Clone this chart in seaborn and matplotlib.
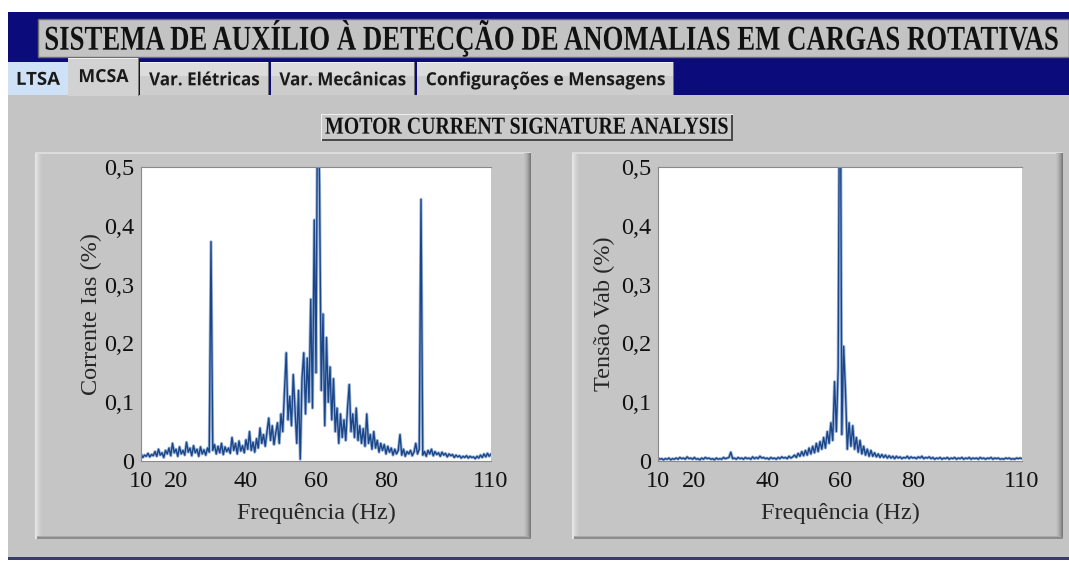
import numpy as np
import matplotlib
matplotlib.use("Agg")
import matplotlib.pyplot as plt
import seaborn as sns
from matplotlib.patches import Rectangle
from matplotlib.patheffects import AbstractPathEffect
from matplotlib.transforms import Affine2D

# ---------------------------------------------------------------- data
freq_hz = np.linspace(10, 110, 201)          # 0.5 Hz spectral bins

corrente_ias = [
    0.012, 0.006, 0.010, 0.008, 0.013, 0.007, 0.011, 0.009, 0.016, 0.008,
    0.020, 0.010, 0.014, 0.006, 0.018, 0.012, 0.022, 0.009, 0.030, 0.014,
    0.020, 0.008, 0.024, 0.012, 0.018, 0.010, 0.032, 0.015, 0.022, 0.009,
    0.026, 0.014, 0.020, 0.008, 0.024, 0.012, 0.019, 0.010, 0.022, 0.015,
    0.373, 0.018, 0.028, 0.012, 0.025, 0.014, 0.030, 0.011, 0.024, 0.016,
    0.022, 0.013, 0.040, 0.018, 0.030, 0.012, 0.034, 0.017, 0.026, 0.014,
    0.036, 0.020, 0.050, 0.018, 0.032, 0.015, 0.038, 0.022, 0.056, 0.030,
    0.045, 0.025, 0.050, 0.073, 0.035, 0.060, 0.028, 0.048, 0.065, 0.030,
    0.080, 0.050, 0.120, 0.184, 0.070, 0.110, 0.060, 0.147, 0.090, 0.030,
    0.120, 0.003, 0.140, 0.184, 0.080, 0.175, 0.100, 0.275, 0.090, 0.410,
    0.150, 0.700, 0.470, 0.120, 0.250, 0.060, 0.210, 0.100, 0.160, 0.070,
    0.140, 0.050, 0.090, 0.030, 0.080, 0.040, 0.070, 0.035, 0.090, 0.130,
    0.050, 0.080, 0.040, 0.090, 0.035, 0.060, 0.030, 0.055, 0.025, 0.080,
    0.030, 0.045, 0.020, 0.050, 0.022, 0.035, 0.015, 0.030, 0.018, 0.028,
    0.012, 0.025, 0.015, 0.022, 0.010, 0.020, 0.012, 0.018, 0.045, 0.010,
    0.020, 0.008, 0.016, 0.012, 0.018, 0.009, 0.015, 0.030, 0.012, 0.020,
    0.445, 0.010, 0.016, 0.008, 0.018, 0.012, 0.020, 0.009, 0.016, 0.011,
    0.014, 0.008, 0.015, 0.010, 0.013, 0.007, 0.012, 0.009, 0.011, 0.006,
    0.010, 0.007, 0.009, 0.005, 0.008, 0.006, 0.009, 0.005, 0.008, 0.006,
    0.007, 0.004, 0.008, 0.005, 0.010, 0.006, 0.012, 0.007, 0.013, 0.008,
    0.012,
]

tensao_vab = [
    0.005, 0.003, 0.004, 0.002, 0.004, 0.003, 0.005, 0.002, 0.004, 0.003,
    0.005, 0.003, 0.006, 0.004, 0.005, 0.003, 0.007, 0.004, 0.005, 0.003,
    0.006, 0.003, 0.004, 0.002, 0.005, 0.003, 0.006, 0.004, 0.005, 0.003,
    0.004, 0.002, 0.005, 0.003, 0.004, 0.003, 0.006, 0.004, 0.005, 0.006,
    0.015, 0.004, 0.005, 0.003, 0.006, 0.004, 0.005, 0.003, 0.006, 0.004,
    0.005, 0.003, 0.007, 0.004, 0.006, 0.004, 0.008, 0.005, 0.006, 0.004,
    0.005, 0.003, 0.006, 0.004, 0.005, 0.003, 0.006, 0.004, 0.007, 0.005,
    0.006, 0.004, 0.008, 0.005, 0.007, 0.010, 0.006, 0.013, 0.008, 0.016,
    0.009, 0.018, 0.010, 0.022, 0.012, 0.025, 0.014, 0.030, 0.016, 0.033,
    0.020, 0.040, 0.022, 0.050, 0.030, 0.065, 0.035, 0.135, 0.050, 0.158,
    0.850, 0.045, 0.195, 0.120, 0.020, 0.065, 0.025, 0.060, 0.020, 0.040,
    0.015, 0.035, 0.012, 0.025, 0.010, 0.020, 0.008, 0.018, 0.008, 0.014,
    0.007, 0.012, 0.006, 0.011, 0.006, 0.010, 0.005, 0.009, 0.005, 0.008,
    0.004, 0.008, 0.005, 0.007, 0.004, 0.006, 0.005, 0.008, 0.004, 0.007,
    0.005, 0.006, 0.004, 0.007, 0.005, 0.008, 0.004, 0.006, 0.005, 0.007,
    0.004, 0.006, 0.003, 0.005, 0.004, 0.006, 0.003, 0.005, 0.004, 0.006,
    0.003, 0.005, 0.004, 0.006, 0.003, 0.005, 0.004, 0.006, 0.003, 0.005,
    0.004, 0.006, 0.003, 0.005, 0.004, 0.005, 0.003, 0.006, 0.004, 0.005,
    0.003, 0.005, 0.004, 0.006, 0.003, 0.005, 0.004, 0.005, 0.003, 0.004,
    0.003, 0.005, 0.004, 0.005, 0.003, 0.004, 0.003, 0.005, 0.004, 0.005,
    0.004,
]

x_ticks = [10, 20, 40, 60, 80, 100, 110]
x_ticklabels = ["10", "20", "40", "60", "80", "", "110"]
y_ticks = [0, 0.1, 0.2, 0.3, 0.4, 0.5]
y_ticklabels = ["0", "0,1", "0,2", "0,3", "0,4", "0,5"]

title = "SISTEMA DE AUXÍLIO À DETECÇÃO DE ANOMALIAS EM CARGAS ROTATIVAS"
subtitle = "MOTOR CURRENT SIGNATURE ANALYSIS"
tab_names = ["LTSA", "MCSA", "Var. Elétricas", "Var. Mecânicas",
             "Configurações e Mensagens"]
x_label = "Frequência (Hz)"
y_label_left = "Corrente Ias (%)"
y_label_right = "Tensão Vab (%)"

# ---------------------------------------------------------------- style
sns.set_style("white")
plt.rcParams["font.family"] = ["Liberation Serif", "DejaVu Serif"]

W, H = 1069, 565
fig = plt.figure(figsize=(W / 100, H / 100), dpi=100)
fig.patch.set_facecolor("white")

NAVY = "#0b0b7c"
PANEL = "#c4c4c4"
LINE_DARK = "#1a4688"
LINE_LIGHT = "#9fb6da"


def rect(x0, y0, x1, y1, color, z=-5, ec="none", lw=0):
    """Rectangle given in pixel coordinates measured from the top-left."""
    fig.add_artist(Rectangle((x0 / W, 1 - y1 / H), (x1 - x0) / W, (y1 - y0) / H,
                             transform=fig.transFigure, facecolor=color,
                             edgecolor=ec, linewidth=lw, zorder=z))


class VStretch(AbstractPathEffect):
    """Draw text glyphs stretched vertically around a pixel row."""

    def __init__(self, sy, y0):
        super().__init__()
        self.sy, self.y0 = sy, y0

    def draw_path(self, renderer, gc, tpath, affine, rgbFace=None):
        t = affine + Affine2D().translate(0, -self.y0).scale(1, self.sy).translate(0, self.y0)
        renderer.draw_path(gc, tpath, t, rgbFace)


def condensed_text(xc, yc, s, width_px, size_pt, **kw):
    """Narrow, tall label: sized to span width_px, then stretched to the
    glyph height of size_pt."""
    t = fig.text(xc / W, 1 - yc / H, s, ha="center", va="center",
                 fontsize=size_pt, zorder=5, **kw)
    w = t.get_window_extent(fig.canvas.get_renderer()).width
    fs = size_pt * width_px / w
    t.set_fontsize(fs)
    t.set_path_effects([VStretch(size_pt / fs, H - yc)])
    return t


def bevel(x0, y0, x1, y1):
    rect(x0, y0, x1, y1, "#c5c5c5", z=-4)
    for i, c in enumerate(["#e6e6e6", "#e0e0e0", "#dadada", "#d4d4d4",
                           "#cfcfcf", "#cbcbcb", "#c8c8c8"]):
        rect(x0 + i, y0, x0 + i + 1, y1, c, z=-3)
    rect(x0, y0, x1, y0 + 2, "#dcdcdc", z=-3)
    for i, c in enumerate(["#7a7a7a", "#8a8a8a", "#999999", "#a6a6a6",
                           "#b1b1b1", "#bababa", "#c0c0c0"]):
        rect(x1 - i - 1, y0 + 1, x1 - i, y1, c, z=-3)
    rect(x0 + 2, y1 - 2, x1, y1, "#8c8c8c", z=-3)
    rect(x0 + 2, y1 - 3, x1 - 2, y1 - 2, "#a9a9a9", z=-3)


# ---------------------------------------------------------------- window chrome
rect(8, 12, W, 95, NAVY, z=-6)
rect(38, 19, W, 57, "#c3c3c3", z=-5, ec="#6e6e6e", lw=1)
condensed_text(551, 38, title, 1016, 25, weight="bold", color="#111111")

rect(8, 95, W, 557, PANEL, z=-6)
rect(8, 557, W, 560, "#3c3c6c", z=-6)

tab_spans = [(8, 68), (68, 139), (140, 269), (271, 415), (417, 674)]
text_widths = [44, 50, 110, 126, 238]
for i, ((a, b), name, tw) in enumerate(zip(tab_spans, tab_names, text_widths)):
    if i == 0:
        rect(a, 62, b, 95, "#cfe1f7", z=-5)
        ty = 80
    elif i == 1:
        rect(a, 58, b, 96, "#d2d2d2", z=-4)
        rect(a, 58, b, 59, "#f0f0f0", z=-4)
        rect(b - 1, 58, b, 96, "#7a7a7a", z=-4)
        ty = 77
    else:
        rect(a, 62, b, 95, "#cdcdcd", z=-5)
        rect(a, 62, b, 76, "#dcdcdc", z=-5)
        rect(a, 62, b, 63, "#f2f2f2", z=-5)
        rect(b - 1, 62, b, 95, "#707070", z=-5)
        ty = 80
    condensed_text((a + b) / 2, ty, name, tw, 13, weight="bold",
                   family=["Open Sans", "DejaVu Sans"], color="#1a1a1a")

rect(321, 114, 733, 141, "#c9c9c9", z=-5)
rect(321, 139, 733, 141, "#4a4a4a", z=-5)
rect(731, 114, 733, 141, "#4a4a4a", z=-5)
rect(321, 114, 733, 115, "#eeeeee", z=-5)
rect(321, 114, 322, 141, "#eeeeee", z=-5)
condensed_text(527, 127.5, subtitle, 403, 17.5, weight="bold", color="#111111")

bevel(35, 152, 531, 539)
bevel(572, 152, 1063, 539)


# ---------------------------------------------------------------- spectra
def spectrum_axes(x0, x1, y0, y1, values, ylab, ylab_x):
    ax = fig.add_axes([x0 / W, 1 - y1 / H, (x1 - x0) / W, (y1 - y0) / H])
    ax.set_facecolor("white")
    sns.lineplot(x=freq_hz, y=np.asarray(values), ax=ax, color=LINE_LIGHT,
                 linewidth=2.2, estimator=None, sort=False)
    sns.lineplot(x=freq_hz, y=np.asarray(values), ax=ax, color=LINE_DARK,
                 linewidth=1.0, estimator=None, sort=False)
    ax.set_xlim(10, 110)
    ax.set_ylim(0, 0.5)
    ax.set_xticks(x_ticks)
    ax.set_xticklabels(x_ticklabels)
    ax.set_yticks(y_ticks)
    ax.set_yticklabels(y_ticklabels)
    ax.tick_params(axis="both", labelsize=17.5, colors="#111111",
                   direction="out", length=4, width=0.8)
    ax.tick_params(axis="y", pad=1, color="#666666")
    ax.tick_params(axis="x", pad=4, color="#666666", length=3)
    for sp in ax.spines.values():
        sp.set_visible(True)
        sp.set_color("#8a8a8a")
        sp.set_linewidth(0.8)
    ax.spines["right"].set_visible(False)
    ax.set_xlabel(x_label, fontsize=17.5, va="center")
    ax.set_ylabel(ylab, fontsize=17.5, va="center")
    ax.xaxis.set_label_coords(0.5, (y1 - 513) / (y1 - y0))
    ax.yaxis.set_label_coords((ylab_x - x0) / (x1 - x0), 0.5)
    return ax


spectrum_axes(141, 491, 167, 461, corrente_ias, y_label_left, 91)
spectrum_axes(658, 1022, 167, 461, tensao_vab, y_label_right, 604)

fig.savefig("out.png", dpi=100, facecolor=fig.get_facecolor())
